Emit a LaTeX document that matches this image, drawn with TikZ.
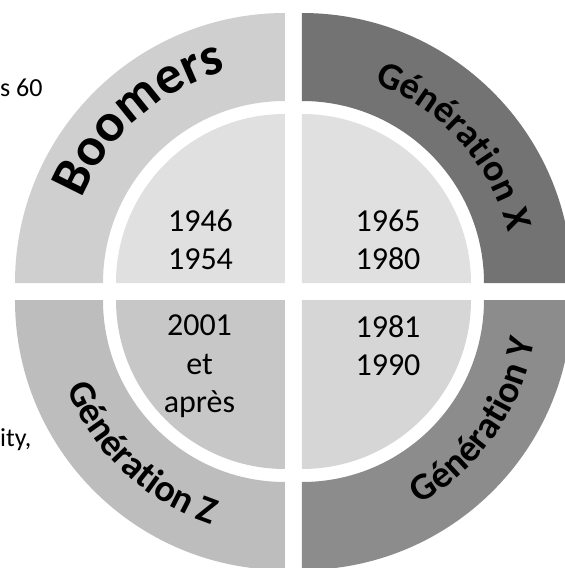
\documentclass[tikz,border=0pt]{standalone}
\usepackage{fontspec}
\setmainfont{Carlito}
\usepackage{tikz}
\usetikzlibrary{decorations.text}
\definecolor{ringTL}{gray}{0.81}
\definecolor{ringTR}{gray}{0.45}
\definecolor{ringBL}{gray}{0.74}
\definecolor{ringBR}{gray}{0.55}
\definecolor{diskTL}{gray}{0.88}
\definecolor{diskTR}{gray}{0.88}
\definecolor{diskBL}{gray}{0.78}
\definecolor{diskBR}{gray}{0.84}
\newcommand{\boomfont}{\fontsize{54}{54}\selectfont\bfseries}
\newcommand{\genfont}{\fontsize{38}{38}\selectfont\bfseries}
\tikzset{ years/.style = {font=\fontsize{32}{38.5}\selectfont, align=center, inner sep=0pt} }
\tikzset{ sidetext/.style = {font=\fontsize{26}{30}\selectfont, inner sep=0pt, anchor=base west} }
\tikzset{ arctext/.style = {decorate, decoration={text along path, text align=center, text={#1}}} }

\begin{document}
\begin{tikzpicture}[x=1pt,y=1pt]
        \useasboundingbox (-293.5,-276.5) rectangle (271.5,291.5);
        \clip (-293.5,-276.5) rectangle (271.5,291.5);
        % the four quarters, each pushed out a little
        \foreach \dx/\dy/\a/\ringc/\diskc in {-8.5/8.5/90/ringTL/diskTL, 8.5/8.5/0/ringTR/diskTR, -8.5/-8.5/180/ringBL/diskBL, 8.5/-8.5/270/ringBR/diskBR}{
            \begin{scope}[shift={(\dx,\dy)}]
                \fill[\ringc] (\a:270) arc[start angle=\a, delta angle=90, radius=270] -- ({\a+90}:182) arc[start angle=\a+90, delta angle=-90, radius=182] -- cycle;
                \fill[\diskc] (0,0) -- (\a:169) arc[start angle=\a, delta angle=90, radius=169] -- cycle;
            \end{scope}
        }
        % names on the ring
        \path[arctext={|\boomfont|Boomers}] ([shift={(-8.5,8.5)}]168:220) arc[start angle=168, end angle=95, radius=220];
        \path[arctext={|\genfont|Génération X}] ([shift={(8.5,8.5)}]80:212) arc[start angle=80, end angle=4, radius=212];
        \path[arctext={|\genfont|Génération Z}] ([shift={(-8.5,-8.5)}]190:236) arc[start angle=190, end angle=264, radius=236];
        \path[arctext={|\genfont|Génération Y}] ([shift={(8.5,-8.5)}]288:236) arc[start angle=288, end angle=362, radius=236];
        % years
        \node[years] (boomyrs) at (-93,51.7) {1946\\1954};
        \node[years] (genxyrs) at (94.5,51.7) {1965\\1980};
        \node[years, anchor=north] (genzyrs) at (-94,-23.5) {2001\\et\\après};
        \node[years, anchor=north] (genyyrs) at (94.5,-23.5) {1981\\1990};
        % cut text on the left
        \node[sidetext] (sixty) at (-293.5,194.5) {s 60};
        \node[sidetext] (ity) at (-293.5,-154.5) {ity,};
    \end{tikzpicture}
\end{document}
